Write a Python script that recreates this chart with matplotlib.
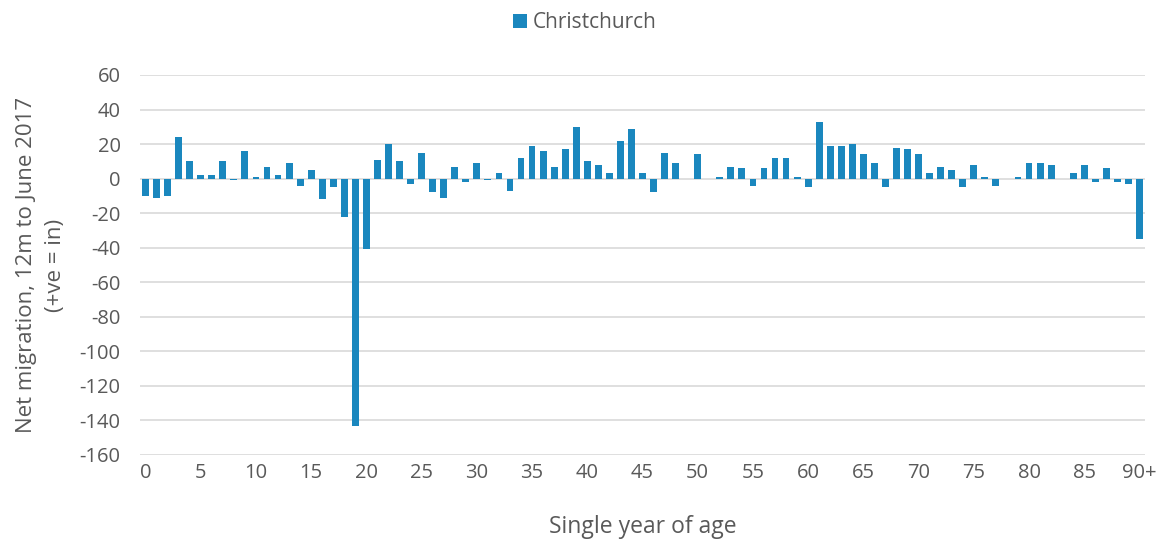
import matplotlib
matplotlib.use("Agg")
import matplotlib.pyplot as plt
import numpy as np

ages = list(range(91))
tick_positions = list(range(0, 91, 5))
tick_labels = [str(a) for a in range(0, 90, 5)] + ["90+"]
net_migration = [
    -10, -11, -10, 24, 10, 2, 2, 10, -1, 16,
    1, 7, 2, 9, -4, 5, -12, -5, -22, -143,
    -41, 11, 20, 10, -3, 15, -8, -11, 7, -2,
    9, -1, 3, -7, 12, 19, 16, 7, 17, 30,
    10, 8, 3, 22, 29, 3, -8, 15, 9, 0,
    14, 0, 1, 7, 6, -4, 6, 12, 12, 1,
    -5, 33, 19, 19, 20, 14, 9, -5, 18, 17,
    14, 3, 7, 5, -5, 8, 1, -4, 0, 1,
    9, 9, 8, 0, 3, 8, -2, 6, -2, -3,
    -35,
]
yticks = list(range(-160, 61, 20))

plt.rcParams['font.family'] = ['Open Sans', 'DejaVu Sans']
text_color = '#595959'
bar_color = '#1a87be'

fig = plt.figure(figsize=(11.62, 5.40), dpi=100)
ax = fig.add_axes([140/1162, 1-455/540, (1145-140)/1162, (455-75)/540])

ax.bar(ages, net_migration, width=0.62, color=bar_color, zorder=3, label='Christchurch')
ax.set_xlim(-0.5, 90.5)
ax.set_ylim(-160, 60)
ax.set_yticks(yticks)
ax.set_yticklabels([str(v) for v in yticks])
ax.set_xticks(tick_positions)
ax.set_xticklabels(tick_labels)
ax.grid(axis='y', color='#d9d9d9', linewidth=1.2, zorder=0)
for s in ax.spines.values():
    s.set_visible(False)
ax.tick_params(axis='both', length=0, labelsize=14.5, colors=text_color, pad=6)
ax.tick_params(axis='y', pad=14)
ax.set_xlabel('Single year of age', fontsize=16.5, color=text_color, labelpad=23)
ax.set_ylabel('Net migration, 12m to June 2017\n(+ve = in)', fontsize=16, color=text_color,
              labelpad=10, linespacing=1.5)
leg = fig.legend(loc='upper center', bbox_to_anchor=(0.503, 1.012), frameon=False,
                 fontsize=15, handlelength=0.7, handleheight=0.7, handletextpad=0.25)
for t in leg.get_texts():
    t.set_color(text_color)

fig.savefig('out.png', dpi=100)
